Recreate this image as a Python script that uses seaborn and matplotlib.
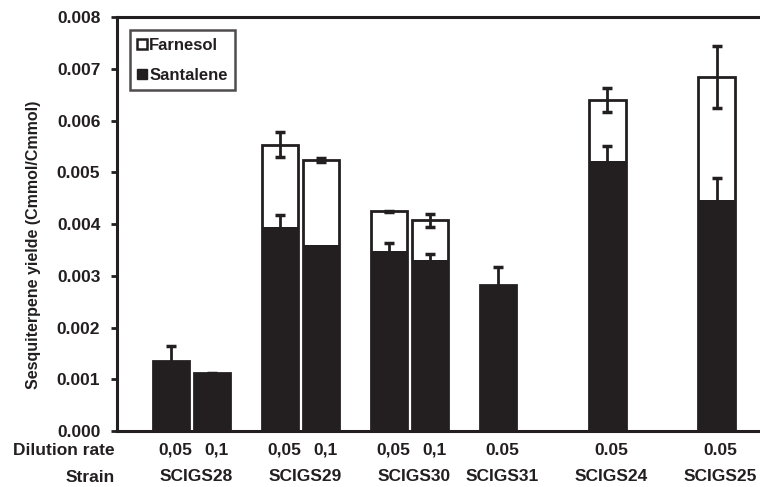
import numpy as np
import pandas as pd
import seaborn as sns
import matplotlib.pyplot as plt
import matplotlib.transforms as mtransforms
from matplotlib.patches import Patch

# dados
strains = ['SCIGS28', 'SCIGS28', 'SCIGS29', 'SCIGS29', 'SCIGS30', 'SCIGS30', 'SCIGS31', 'SCIGS24', 'SCIGS25']
dilution = ['0,05', '0,1', '0,05', '0,1', '0,05', '0,1', '0.05', '0.05', '0.05']
santalene = [0.00135, 0.00112, 0.00394, 0.00359, 0.00347, 0.00331, 0.00282, 0.00521, 0.00446]
santalene_err = [0.00029, 0.00001, 0.00023, 0.0, 0.00016, 0.00012, 0.00034, 0.00030, 0.00042]
farnesol = [0.0, 0.0, 0.00159, 0.00164, 0.00078, 0.00076, 0.0, 0.00119, 0.00238]
farnesol_err = [0.0, 0.0, 0.00024, 0.00004, 0.00001, 0.00012, 0.0, 0.00023, 0.00060]
yticks = [0.000, 0.001, 0.002, 0.003, 0.004, 0.005, 0.006, 0.007, 0.008]

# posicoes: cada cepa tem 2 vagas, com espaco entre grupos
group_step = 2.66
order = list(dict.fromkeys(strains))
pos = []
seen = {}
for s in strains:
    g = order.index(s)
    slot = seen.get(s, 0)
    seen[s] = slot + 1
    pos.append(g * group_step + slot)

df = pd.DataFrame({'pos': pos, 'strain': strains, 'dil': dilution,
                   'santalene': santalene, 'farnesol': farnesol,
                   's_err': santalene_err, 'f_err': farnesol_err})
df['total'] = df['santalene'] + df['farnesol']

sns.set_style('ticks')
plt.rcParams['font.family'] = ['Liberation Sans', 'DejaVu Sans']
plt.rcParams['font.weight'] = 'bold'
dark = '#231f20'

fig = plt.figure(figsize=(7.6, 4.87), dpi=100)
ax = fig.add_axes([0.154, 0.115, 0.846, 0.85])

# total (branco) primeiro, depois santalene (preto) por cima
sns.barplot(data=df, x='pos', y='total', native_scale=True, width=0.88, color='white',
            saturation=1, edgecolor=dark, linewidth=2, errorbar=None, ax=ax)
sns.barplot(data=df, x='pos', y='santalene', native_scale=True, width=0.88, color=dark,
            saturation=1, linewidth=0, errorbar=None, ax=ax)

# barras de erro (a parte de baixo do santalene fica escondida na barra preta)
ds = df[df['s_err'] > 0]
ax.errorbar(ds['pos'], ds['santalene'], yerr=ds['s_err'], fmt='none',
            ecolor=dark, elinewidth=2, capsize=3.5, capthick=2.5, zorder=5)
dfa = df[df['farnesol'] > 0]
ax.errorbar(dfa['pos'], dfa['total'], yerr=dfa['f_err'], fmt='none',
            ecolor=dark, elinewidth=2, capsize=3.5, capthick=2.5, zorder=5)

ax.set_xlim(-1.32, 14.36)
ax.set_ylim(0, 0.008)
ax.set_yticks(yticks)
ax.set_yticklabels([f'{v:.3f}' for v in yticks])
ax.set_xticks([])
ax.set_xlabel('')
ax.tick_params(axis='y', length=4, width=2, color=dark, pad=8, labelsize=12.5, labelcolor=dark)
for side in ['left', 'bottom', 'top']:
    ax.spines[side].set_linewidth(2.2)
    ax.spines[side].set_color(dark)
ax.spines['right'].set_visible(False)

ax.set_ylabel('Sesquiterpene yielde (Cmmol/Cmmol)', fontsize=11.5, fontweight='bold', color=dark)
ax.yaxis.set_label_coords(-0.118, 0.45)

# rotulos em baixo
trans = mtransforms.blended_transform_factory(ax.transData, ax.transAxes)
for p, d in zip(df['pos'], df['dil']):
    ax.text(p + 0.1, -0.046, d, transform=trans, ha='center', va='center',
            fontsize=12.5, fontweight='bold', color=dark)
for s in order:
    xc = df.loc[df['strain'] == s, 'pos'].mean() + 0.1
    ax.text(xc, -0.111, s, transform=trans, ha='center', va='center',
            fontsize=12.5, fontweight='bold', color=dark)
ax.text(-0.004, -0.046, 'Dilution rate', transform=ax.transAxes, ha='right', va='center',
        fontsize=12.5, fontweight='bold', color=dark)
ax.text(-0.004, -0.113, 'Strain', transform=ax.transAxes, ha='right', va='center',
        fontsize=12.5, fontweight='bold', color=dark)

handles = [Patch(facecolor='white', edgecolor=dark, linewidth=1.8, label='Farnesol'),
           Patch(facecolor=dark, edgecolor=dark, label='Santalene')]
leg = ax.legend(handles=handles, loc='upper left', bbox_to_anchor=(0.02, 0.968),
                borderaxespad=0, fancybox=False, handlelength=0.6, handleheight=0.6,
                handletextpad=0.1, labelspacing=0.9, borderpad=0.45, fontsize=12)
leg.get_frame().set_edgecolor(dark)
leg.get_frame().set_linewidth(1.8)
for t in leg.get_texts():
    t.set_fontweight('bold')
    t.set_color(dark)

fig.savefig('out.png', dpi=100)
